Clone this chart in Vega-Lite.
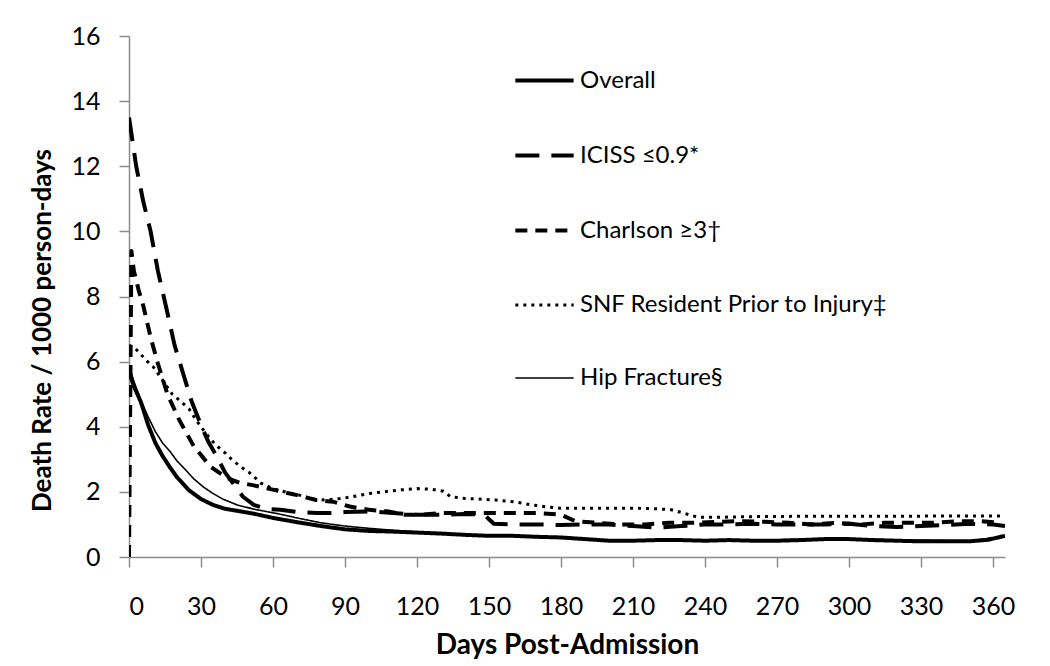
{
  "$schema": "https://vega.github.io/schema/vega-lite/v6.json",
  "width": 876,
  "height": 521,
  "autosize": {"type": "none"},
  "padding": {"left": 129, "top": 36, "right": 45, "bottom": 109},
  "background": "white",
  "config": {
    "font": "Lato",
    "view": {"stroke": null},
    "axis": {
      "grid": false,
      "domainColor": "#8c8c8c",
      "domainWidth": 1.5,
      "tickColor": "#8c8c8c",
      "tickWidth": 1.5,
      "tickSize": 10,
      "labelFont": "Lato",
      "labelFontSize": 25,
      "labelColor": "black",
      "titleFont": "Lato",
      "titleFontWeight": "bold",
      "titleColor": "black"
    }
  },
  "data": {
    "values": [
      {"series": "Overall", "day": 0, "rate": 5.7},
      {"series": "Overall", "day": 2, "rate": 5.25},
      {"series": "Overall", "day": 5, "rate": 4.75},
      {"series": "Overall", "day": 8, "rate": 4.05},
      {"series": "Overall", "day": 11, "rate": 3.5},
      {"series": "Overall", "day": 14, "rate": 3.1},
      {"series": "Overall", "day": 17, "rate": 2.76},
      {"series": "Overall", "day": 20, "rate": 2.45},
      {"series": "Overall", "day": 25, "rate": 2.05},
      {"series": "Overall", "day": 30, "rate": 1.78},
      {"series": "Overall", "day": 35, "rate": 1.6},
      {"series": "Overall", "day": 40, "rate": 1.48},
      {"series": "Overall", "day": 45, "rate": 1.42},
      {"series": "Overall", "day": 52, "rate": 1.33},
      {"series": "Overall", "day": 60, "rate": 1.2},
      {"series": "Overall", "day": 70, "rate": 1.07},
      {"series": "Overall", "day": 80, "rate": 0.95},
      {"series": "Overall", "day": 90, "rate": 0.85},
      {"series": "Overall", "day": 100, "rate": 0.8},
      {"series": "Overall", "day": 110, "rate": 0.78},
      {"series": "Overall", "day": 120, "rate": 0.75},
      {"series": "Overall", "day": 130, "rate": 0.72},
      {"series": "Overall", "day": 140, "rate": 0.68},
      {"series": "Overall", "day": 150, "rate": 0.65},
      {"series": "Overall", "day": 160, "rate": 0.65},
      {"series": "Overall", "day": 170, "rate": 0.62},
      {"series": "Overall", "day": 180, "rate": 0.6},
      {"series": "Overall", "day": 190, "rate": 0.55},
      {"series": "Overall", "day": 200, "rate": 0.5},
      {"series": "Overall", "day": 210, "rate": 0.5},
      {"series": "Overall", "day": 220, "rate": 0.52},
      {"series": "Overall", "day": 230, "rate": 0.52},
      {"series": "Overall", "day": 240, "rate": 0.5},
      {"series": "Overall", "day": 250, "rate": 0.52},
      {"series": "Overall", "day": 260, "rate": 0.5},
      {"series": "Overall", "day": 270, "rate": 0.5},
      {"series": "Overall", "day": 280, "rate": 0.52},
      {"series": "Overall", "day": 290, "rate": 0.55},
      {"series": "Overall", "day": 300, "rate": 0.55},
      {"series": "Overall", "day": 310, "rate": 0.52},
      {"series": "Overall", "day": 320, "rate": 0.5},
      {"series": "Overall", "day": 330, "rate": 0.48},
      {"series": "Overall", "day": 340, "rate": 0.48},
      {"series": "Overall", "day": 350, "rate": 0.48},
      {"series": "Overall", "day": 358, "rate": 0.53},
      {"series": "Overall", "day": 365, "rate": 0.65},

      {"series": "ICISS ≤0.9*", "day": 0, "rate": 13.5},
      {"series": "ICISS ≤0.9*", "day": 3, "rate": 12.0},
      {"series": "ICISS ≤0.9*", "day": 6, "rate": 10.9},
      {"series": "ICISS ≤0.9*", "day": 9, "rate": 10.0},
      {"series": "ICISS ≤0.9*", "day": 12, "rate": 8.8},
      {"series": "ICISS ≤0.9*", "day": 16, "rate": 7.5},
      {"series": "ICISS ≤0.9*", "day": 19, "rate": 6.5},
      {"series": "ICISS ≤0.9*", "day": 22.5, "rate": 5.65},
      {"series": "ICISS ≤0.9*", "day": 26, "rate": 4.8},
      {"series": "ICISS ≤0.9*", "day": 30, "rate": 4.05},
      {"series": "ICISS ≤0.9*", "day": 33, "rate": 3.55},
      {"series": "ICISS ≤0.9*", "day": 36.5, "rate": 3.1},
      {"series": "ICISS ≤0.9*", "day": 40, "rate": 2.6},
      {"series": "ICISS ≤0.9*", "day": 44, "rate": 2.2},
      {"series": "ICISS ≤0.9*", "day": 47.5, "rate": 1.85},
      {"series": "ICISS ≤0.9*", "day": 52, "rate": 1.6},
      {"series": "ICISS ≤0.9*", "day": 57, "rate": 1.48},
      {"series": "ICISS ≤0.9*", "day": 63, "rate": 1.45},
      {"series": "ICISS ≤0.9*", "day": 70, "rate": 1.38},
      {"series": "ICISS ≤0.9*", "day": 78, "rate": 1.35},
      {"series": "ICISS ≤0.9*", "day": 85, "rate": 1.35},
      {"series": "ICISS ≤0.9*", "day": 90, "rate": 1.38},
      {"series": "ICISS ≤0.9*", "day": 100, "rate": 1.4},
      {"series": "ICISS ≤0.9*", "day": 110, "rate": 1.35},
      {"series": "ICISS ≤0.9*", "day": 120, "rate": 1.3},
      {"series": "ICISS ≤0.9*", "day": 130, "rate": 1.3},
      {"series": "ICISS ≤0.9*", "day": 140, "rate": 1.32},
      {"series": "ICISS ≤0.9*", "day": 148, "rate": 1.3},
      {"series": "ICISS ≤0.9*", "day": 152, "rate": 1.02},
      {"series": "ICISS ≤0.9*", "day": 160, "rate": 1.0},
      {"series": "ICISS ≤0.9*", "day": 170, "rate": 1.0},
      {"series": "ICISS ≤0.9*", "day": 180, "rate": 0.98},
      {"series": "ICISS ≤0.9*", "day": 190, "rate": 1.0},
      {"series": "ICISS ≤0.9*", "day": 200, "rate": 1.0},
      {"series": "ICISS ≤0.9*", "day": 210, "rate": 0.95},
      {"series": "ICISS ≤0.9*", "day": 220, "rate": 0.9},
      {"series": "ICISS ≤0.9*", "day": 230, "rate": 0.95},
      {"series": "ICISS ≤0.9*", "day": 240, "rate": 1.0},
      {"series": "ICISS ≤0.9*", "day": 250, "rate": 1.0},
      {"series": "ICISS ≤0.9*", "day": 260, "rate": 1.02},
      {"series": "ICISS ≤0.9*", "day": 270, "rate": 1.0},
      {"series": "ICISS ≤0.9*", "day": 280, "rate": 1.0},
      {"series": "ICISS ≤0.9*", "day": 290, "rate": 1.0},
      {"series": "ICISS ≤0.9*", "day": 300, "rate": 1.02},
      {"series": "ICISS ≤0.9*", "day": 310, "rate": 0.95},
      {"series": "ICISS ≤0.9*", "day": 320, "rate": 0.92},
      {"series": "ICISS ≤0.9*", "day": 330, "rate": 0.95},
      {"series": "ICISS ≤0.9*", "day": 340, "rate": 0.98},
      {"series": "ICISS ≤0.9*", "day": 350, "rate": 1.02},
      {"series": "ICISS ≤0.9*", "day": 360, "rate": 1.0},
      {"series": "ICISS ≤0.9*", "day": 365, "rate": 0.95},

      {"series": "Charlson ≥3†", "day": 0, "rate": 0},
      {"series": "Charlson ≥3†", "day": 1, "rate": 9.4},
      {"series": "Charlson ≥3†", "day": 2, "rate": 8.8},
      {"series": "Charlson ≥3†", "day": 4, "rate": 8.2},
      {"series": "Charlson ≥3†", "day": 6, "rate": 7.7},
      {"series": "Charlson ≥3†", "day": 9, "rate": 6.75},
      {"series": "Charlson ≥3†", "day": 12, "rate": 5.95},
      {"series": "Charlson ≥3†", "day": 16, "rate": 5.0},
      {"series": "Charlson ≥3†", "day": 21, "rate": 4.2},
      {"series": "Charlson ≥3†", "day": 27, "rate": 3.4},
      {"series": "Charlson ≥3†", "day": 34, "rate": 2.77},
      {"series": "Charlson ≥3†", "day": 41, "rate": 2.42},
      {"series": "Charlson ≥3†", "day": 46, "rate": 2.28},
      {"series": "Charlson ≥3†", "day": 52, "rate": 2.2},
      {"series": "Charlson ≥3†", "day": 58, "rate": 2.1},
      {"series": "Charlson ≥3†", "day": 64, "rate": 2.0},
      {"series": "Charlson ≥3†", "day": 70, "rate": 1.9},
      {"series": "Charlson ≥3†", "day": 78, "rate": 1.75},
      {"series": "Charlson ≥3†", "day": 85, "rate": 1.7},
      {"series": "Charlson ≥3†", "day": 92, "rate": 1.55},
      {"series": "Charlson ≥3†", "day": 100, "rate": 1.45},
      {"series": "Charlson ≥3†", "day": 108, "rate": 1.4},
      {"series": "Charlson ≥3†", "day": 115, "rate": 1.3},
      {"series": "Charlson ≥3†", "day": 122, "rate": 1.3},
      {"series": "Charlson ≥3†", "day": 130, "rate": 1.35},
      {"series": "Charlson ≥3†", "day": 140, "rate": 1.35},
      {"series": "Charlson ≥3†", "day": 150, "rate": 1.35},
      {"series": "Charlson ≥3†", "day": 160, "rate": 1.35},
      {"series": "Charlson ≥3†", "day": 170, "rate": 1.35},
      {"series": "Charlson ≥3†", "day": 180, "rate": 1.3},
      {"series": "Charlson ≥3†", "day": 186, "rate": 1.1},
      {"series": "Charlson ≥3†", "day": 195, "rate": 1.05},
      {"series": "Charlson ≥3†", "day": 205, "rate": 1.0},
      {"series": "Charlson ≥3†", "day": 215, "rate": 1.0},
      {"series": "Charlson ≥3†", "day": 225, "rate": 1.05},
      {"series": "Charlson ≥3†", "day": 235, "rate": 1.05},
      {"series": "Charlson ≥3†", "day": 245, "rate": 1.08},
      {"series": "Charlson ≥3†", "day": 255, "rate": 1.1},
      {"series": "Charlson ≥3†", "day": 265, "rate": 1.08},
      {"series": "Charlson ≥3†", "day": 275, "rate": 1.05},
      {"series": "Charlson ≥3†", "day": 285, "rate": 1.0},
      {"series": "Charlson ≥3†", "day": 295, "rate": 1.05},
      {"series": "Charlson ≥3†", "day": 305, "rate": 1.0},
      {"series": "Charlson ≥3†", "day": 315, "rate": 1.05},
      {"series": "Charlson ≥3†", "day": 325, "rate": 1.05},
      {"series": "Charlson ≥3†", "day": 335, "rate": 1.05},
      {"series": "Charlson ≥3†", "day": 345, "rate": 1.1},
      {"series": "Charlson ≥3†", "day": 355, "rate": 1.1},
      {"series": "Charlson ≥3†", "day": 363, "rate": 1.05},

      {"series": "SNF Resident Prior to Injury‡", "day": 0, "rate": 6.5},
      {"series": "SNF Resident Prior to Injury‡", "day": 2, "rate": 6.45},
      {"series": "SNF Resident Prior to Injury‡", "day": 5, "rate": 6.22},
      {"series": "SNF Resident Prior to Injury‡", "day": 7, "rate": 6.05},
      {"series": "SNF Resident Prior to Injury‡", "day": 10, "rate": 5.85},
      {"series": "SNF Resident Prior to Injury‡", "day": 14, "rate": 5.43},
      {"series": "SNF Resident Prior to Injury‡", "day": 18, "rate": 5.0},
      {"series": "SNF Resident Prior to Injury‡", "day": 22, "rate": 4.75},
      {"series": "SNF Resident Prior to Injury‡", "day": 25, "rate": 4.55},
      {"series": "SNF Resident Prior to Injury‡", "day": 28, "rate": 4.2},
      {"series": "SNF Resident Prior to Injury‡", "day": 32, "rate": 3.8},
      {"series": "SNF Resident Prior to Injury‡", "day": 36, "rate": 3.45},
      {"series": "SNF Resident Prior to Injury‡", "day": 40, "rate": 3.2},
      {"series": "SNF Resident Prior to Injury‡", "day": 43, "rate": 2.98},
      {"series": "SNF Resident Prior to Injury‡", "day": 47, "rate": 2.75},
      {"series": "SNF Resident Prior to Injury‡", "day": 50, "rate": 2.6},
      {"series": "SNF Resident Prior to Injury‡", "day": 55, "rate": 2.27},
      {"series": "SNF Resident Prior to Injury‡", "day": 60, "rate": 2.1},
      {"series": "SNF Resident Prior to Injury‡", "day": 66, "rate": 1.98},
      {"series": "SNF Resident Prior to Injury‡", "day": 71, "rate": 1.9},
      {"series": "SNF Resident Prior to Injury‡", "day": 77, "rate": 1.77},
      {"series": "SNF Resident Prior to Injury‡", "day": 82, "rate": 1.75},
      {"series": "SNF Resident Prior to Injury‡", "day": 89, "rate": 1.8},
      {"series": "SNF Resident Prior to Injury‡", "day": 95, "rate": 1.88},
      {"series": "SNF Resident Prior to Injury‡", "day": 100, "rate": 1.95},
      {"series": "SNF Resident Prior to Injury‡", "day": 106, "rate": 2.0},
      {"series": "SNF Resident Prior to Injury‡", "day": 113, "rate": 2.06},
      {"series": "SNF Resident Prior to Injury‡", "day": 120, "rate": 2.1},
      {"series": "SNF Resident Prior to Injury‡", "day": 126, "rate": 2.08},
      {"series": "SNF Resident Prior to Injury‡", "day": 131, "rate": 2.02},
      {"series": "SNF Resident Prior to Injury‡", "day": 134, "rate": 1.85},
      {"series": "SNF Resident Prior to Injury‡", "day": 140, "rate": 1.8},
      {"series": "SNF Resident Prior to Injury‡", "day": 153, "rate": 1.75},
      {"series": "SNF Resident Prior to Injury‡", "day": 160, "rate": 1.7},
      {"series": "SNF Resident Prior to Injury‡", "day": 168, "rate": 1.6},
      {"series": "SNF Resident Prior to Injury‡", "day": 174, "rate": 1.54},
      {"series": "SNF Resident Prior to Injury‡", "day": 180, "rate": 1.5},
      {"series": "SNF Resident Prior to Injury‡", "day": 190, "rate": 1.5},
      {"series": "SNF Resident Prior to Injury‡", "day": 200, "rate": 1.5},
      {"series": "SNF Resident Prior to Injury‡", "day": 210, "rate": 1.5},
      {"series": "SNF Resident Prior to Injury‡", "day": 220, "rate": 1.48},
      {"series": "SNF Resident Prior to Injury‡", "day": 226, "rate": 1.45},
      {"series": "SNF Resident Prior to Injury‡", "day": 231, "rate": 1.35},
      {"series": "SNF Resident Prior to Injury‡", "day": 237, "rate": 1.22},
      {"series": "SNF Resident Prior to Injury‡", "day": 245, "rate": 1.22},
      {"series": "SNF Resident Prior to Injury‡", "day": 260, "rate": 1.24},
      {"series": "SNF Resident Prior to Injury‡", "day": 280, "rate": 1.25},
      {"series": "SNF Resident Prior to Injury‡", "day": 300, "rate": 1.25},
      {"series": "SNF Resident Prior to Injury‡", "day": 320, "rate": 1.25},
      {"series": "SNF Resident Prior to Injury‡", "day": 340, "rate": 1.26},
      {"series": "SNF Resident Prior to Injury‡", "day": 365, "rate": 1.26},

      {"series": "Hip Fracture§", "day": 0, "rate": 5.9},
      {"series": "Hip Fracture§", "day": 2, "rate": 5.4},
      {"series": "Hip Fracture§", "day": 5, "rate": 4.8},
      {"series": "Hip Fracture§", "day": 8, "rate": 4.3},
      {"series": "Hip Fracture§", "day": 11, "rate": 3.85},
      {"series": "Hip Fracture§", "day": 14, "rate": 3.5},
      {"series": "Hip Fracture§", "day": 17, "rate": 3.25},
      {"series": "Hip Fracture§", "day": 20, "rate": 2.95},
      {"series": "Hip Fracture§", "day": 23, "rate": 2.72},
      {"series": "Hip Fracture§", "day": 27, "rate": 2.4},
      {"series": "Hip Fracture§", "day": 31, "rate": 2.15},
      {"series": "Hip Fracture§", "day": 35, "rate": 1.95},
      {"series": "Hip Fracture§", "day": 39, "rate": 1.78},
      {"series": "Hip Fracture§", "day": 45, "rate": 1.6},
      {"series": "Hip Fracture§", "day": 52, "rate": 1.47},
      {"series": "Hip Fracture§", "day": 62, "rate": 1.33},
      {"series": "Hip Fracture§", "day": 70, "rate": 1.2},
      {"series": "Hip Fracture§", "day": 80, "rate": 1.05},
      {"series": "Hip Fracture§", "day": 90, "rate": 0.95},
      {"series": "Hip Fracture§", "day": 100, "rate": 0.88},
      {"series": "Hip Fracture§", "day": 110, "rate": 0.82},
      {"series": "Hip Fracture§", "day": 120, "rate": 0.77},
      {"series": "Hip Fracture§", "day": 130, "rate": 0.73},
      {"series": "Hip Fracture§", "day": 150, "rate": 0.66},
      {"series": "Hip Fracture§", "day": 180, "rate": 0.6},
      {"series": "Hip Fracture§", "day": 200, "rate": 0.51},
      {"series": "Hip Fracture§", "day": 240, "rate": 0.51},
      {"series": "Hip Fracture§", "day": 300, "rate": 0.55},
      {"series": "Hip Fracture§", "day": 350, "rate": 0.49},
      {"series": "Hip Fracture§", "day": 365, "rate": 0.64}
    ]
  },
  "mark": {"type": "line", "color": "black", "strokeCap": "butt", "strokeJoin": "round", "clip": true},
  "encoding": {
    "x": {
      "field": "day",
      "type": "quantitative",
      "scale": {"domain": [0, 365], "nice": false},
      "axis": {
        "values": [0, 30, 60, 90, 120, 150, 180, 210, 240, 270, 300, 330, 360],
        "title": "Days Post-Admission",
        "titleFontSize": 28,
        "labelPadding": 27,
        "titlePadding": 12
      }
    },
    "y": {
      "field": "rate",
      "type": "quantitative",
      "scale": {"domain": [0, 16], "nice": false},
      "axis": {
        "values": [0, 2, 4, 6, 8, 10, 12, 14, 16],
        "title": "Death Rate / 1000 person-days",
        "titleFontSize": 26,
        "labelPadding": 19,
        "titlePadding": 15,
        "titleY": 294
      }
    },
    "strokeDash": {
      "field": "series",
      "type": "nominal",
      "scale": {
        "domain": ["Overall", "ICISS ≤0.9*", "Charlson ≥3†", "SNF Resident Prior to Injury‡", "Hip Fracture§"],
        "range": [[1, 0], [24, 12], [12, 8], [3, 5], [1, 0]]
      },
      "legend": {
        "title": null,
        "orient": "none",
        "legendX": 384,
        "legendY": 13,
        "symbolType": "stroke",
        "symbolSize": 3400,
        "symbolStrokeColor": "black",
        "rowPadding": 31,
        "labelOffset": 4,
        "labelFont": "Lato",
        "labelFontSize": 24,
        "labelColor": "black",
        "labelLimit": 400
      }
    },
    "strokeWidth": {
      "field": "series",
      "type": "nominal",
      "scale": {
        "type": "ordinal",
        "domain": ["Overall", "ICISS ≤0.9*", "Charlson ≥3†", "SNF Resident Prior to Injury‡", "Hip Fracture§"],
        "range": [4, 4, 4, 3, 1.6]
      },
      "legend": {
        "title": null,
        "orient": "none",
        "legendX": 384,
        "legendY": 13,
        "symbolType": "stroke",
        "symbolSize": 3400,
        "symbolStrokeColor": "black",
        "rowPadding": 31,
        "labelOffset": 4,
        "labelFont": "Lato",
        "labelFontSize": 24,
        "labelColor": "black",
        "labelLimit": 400
      }
    }
  }
}
